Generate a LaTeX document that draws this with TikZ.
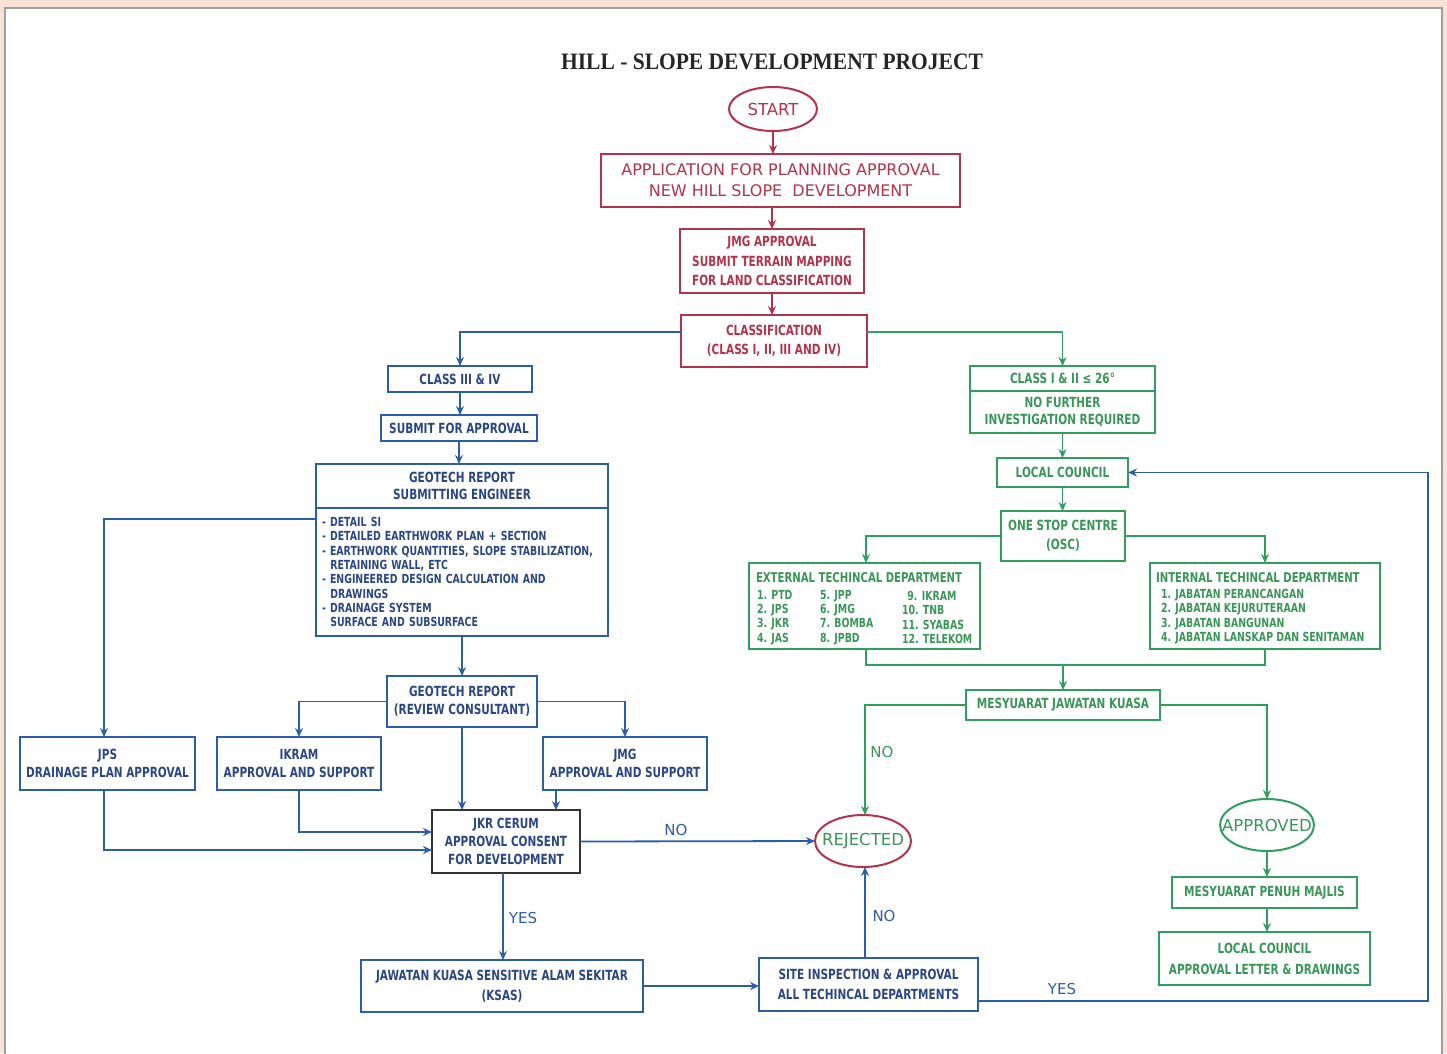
\documentclass[tikz,border=0pt]{standalone}
\usepackage{fontspec}
\setmainfont{DejaVu Sans}
\newfontfamily\cnd{DejaVu Sans}[FakeStretch=0.75]
\newfontfamily\ttlf{Liberation Serif}[FakeStretch=0.915]
\usetikzlibrary{shapes.geometric,arrows.meta}
\definecolor{rd}{HTML}{B2334C}
\definecolor{bl}{HTML}{2D5DA6}
\definecolor{blt}{HTML}{2A4683}
\definecolor{gn}{HTML}{2F9E5F}
\definecolor{gnt}{HTML}{3A9658}
\definecolor{peach}{HTML}{F8E2D8}
\definecolor{dk}{HTML}{333333}
\begin{document}
\begin{tikzpicture}[x=1pt,y=-1pt,
  every node/.style={inner sep=0pt,outer sep=0pt},
  rbox/.style={draw=rd,line width=2pt,text=rd,align=center,font=\fontsize{16}{21}\selectfont},
  rcbox/.style={draw=rd,line width=2pt,text=rd,align=center,font=\cnd\bfseries\fontsize{14}{19.5}\selectfont},
  bbox/.style={draw=bl,line width=2pt,text=blt,align=center,font=\cnd\bfseries\fontsize{14}{18}\selectfont},
  gbox/.style={draw=gn,line width=2pt,text=gnt,align=center,font=\cnd\bfseries\fontsize{14}{16.5}\selectfont},
  oval/.style={ellipse,line width=2pt,inner xsep=-20pt,inner ysep=-10pt,font=\fontsize{16.5}{18}\selectfont},
  blab/.style={text=bl,font=\fontsize{15}{17}\selectfont},
  glab/.style={text=gnt,font=\fontsize{15}{17}\selectfont},
  tip/.style={-{Stealth[length=9pt,width=8pt]}},
  rarr/.style={draw=rd,line width=1.8pt,tip},
  barr/.style={draw=bl,line width=1.8pt,tip},
  garr/.style={draw=gn,line width=1.8pt,tip},
  gline/.style={draw=gn,line width=1.8pt},
  small/.style={font=\cnd\bfseries\fontsize{12.5}{14.3}\selectfont},
]
\useasboundingbox (0,0) rectangle (1447,1053);
\fill[peach] (0,0) rectangle (1447,1053);
\fill[white] (5,8) rectangle (1442,1060);
\draw[gray!75,line width=2.5pt] (5,1060) -- (5,8) -- (1442,8) -- (1442,1060);

% title
\node[text=black!85,font=\ttlf\bfseries\fontsize{23.5}{25}\selectfont] (title) at (772,62) {HILL - SLOPE DEVELOPMENT PROJECT};

% red column
\node[oval,draw=rd,text=rd,minimum width=88pt,minimum height=44pt] (start) at (773,109) {START};
\node[rbox,minimum width=359pt,minimum height=53pt] (app) at (780.5,180.5) {APPLICATION FOR PLANNING APPROVAL\\NEW HILL SLOPE\ \ DEVELOPMENT};
\node[rcbox,minimum width=184pt,minimum height=64pt] (jmg) at (772,261) {JMG APPROVAL\\SUBMIT TERRAIN MAPPING\\FOR LAND CLASSIFICATION};
\node[rcbox,minimum width=186pt,minimum height=52pt] (cls) at (774,341) {CLASSIFICATION\\(CLASS I, II, III AND IV)};
\draw[rarr] (start.south) -- (start.south |- app.north);
\draw[rarr] (jmg.north |- app.south) -- (jmg.north);
\draw[rarr] (jmg.south) -- (jmg.south |- cls.north);

% blue left branch
\node[bbox,minimum width=144pt,minimum height=26pt] (c3) at (460,379) {CLASS III \& IV};
\node[bbox,minimum width=156pt,minimum height=26pt] (sub) at (459,428) {SUBMIT FOR APPROVAL};
\node[bbox,font=\cnd\bfseries\fontsize{14}{17}\selectfont,minimum width=292pt,minimum height=44pt] (gh) at (462,486) {GEOTECH REPORT\\SUBMITTING ENGINEER};
\node[bbox,small,minimum width=292pt,minimum height=128pt,text width=280pt,align=left] (gb) at (462,572) {- DETAIL SI\\- DETAILED EARTHWORK PLAN + SECTION\\- EARTHWORK QUANTITIES, SLOPE STABILIZATION,\\\ \ RETAINING WALL, ETC\\- ENGINEERED DESIGN CALCULATION AND\\\ \ DRAWINGS\\- DRAINAGE SYSTEM\\\ \ SURFACE AND SUBSURFACE};
\node[bbox,minimum width=150pt,minimum height=51pt] (gr) at (462,701.5) {GEOTECH REPORT\\(REVIEW CONSULTANT)};
\node[bbox,minimum width=175pt,minimum height=53pt] (jps) at (107.5,763.5) {JPS\\DRAINAGE PLAN APPROVAL};
\node[bbox,minimum width=164pt,minimum height=53pt] (ikram) at (299,763.5) {IKRAM\\APPROVAL AND SUPPORT};
\node[bbox,minimum width=164pt,minimum height=53pt] (jmgb) at (625,763.5) {JMG\\APPROVAL AND SUPPORT};
\node[bbox,draw=dk,minimum width=148pt,minimum height=63pt] (jkr) at (506,841.5) {JKR CERUM\\APPROVAL CONSENT\\FOR DEVELOPMENT};
\node[oval,draw=rd,text=gnt,minimum width=96pt,minimum height=52pt] (rej) at (863,841) {REJECTED};
\node[bbox,minimum width=282pt,minimum height=52pt,font=\cnd\bfseries\fontsize{14}{20}\selectfont] (ksas) at (502,986) {JAWATAN KUASA SENSITIVE ALAM SEKITAR\\(KSAS)};
\node[bbox,minimum width=219pt,minimum height=53pt,font=\cnd\bfseries\fontsize{14}{20}\selectfont] (site) at (868.5,984.5) {SITE INSPECTION \& APPROVAL\\ALL TECHINCAL DEPARTMENTS};
\coordinate (loopc) at (1428,1001);

\draw[barr] ([yshift=9pt]cls.west) -| (c3.north);
\draw[barr] (c3.south) -- (c3.south |- sub.north);
\draw[barr] (sub.south) -- (sub.south |- gh.north);
\draw[barr] ([yshift=53pt]gb.west) -| ([xshift=-3.5pt]jps.north);
\draw[barr] (gb.south) -- (gr.north);
\draw[barr] (gr.west) -| (ikram.north);
\draw[barr] (gr.east) -| (jmgb.north);
\draw[barr] (gr.south) -- (gr.south |- jkr.north);
\draw[barr] ([xshift=-69pt]jmgb.south) -- ([xshift=-69pt]jmgb.south |- jkr.north);
\draw[barr] ([xshift=-3.5pt]jps.south) |- ([yshift=-8.5pt]jkr.west);
\draw[barr] (ikram.south) |- ([yshift=9.5pt]jkr.west);
\draw[barr] (jkr.east) -- (rej.west);
\draw[barr] ([xshift=-3pt]jkr.south) -- ([xshift=-3pt]jkr.south |- ksas.north);
\draw[barr] (ksas.east) -- (ksas.east -| site.west);
\draw[barr] ([xshift=-3.5pt]site.north) -- ([xshift=-3.5pt]site.north |- rej.south);
\node[blab] (lno1) at (676,830) {NO};
\node[blab] (lyes1) at (523,918) {YES};
\node[blab] (lno2) at (884,916) {NO};
\node[blab] (lyes2) at (1062,989) {YES};

% green right branch
\node[gbox,minimum width=185pt,minimum height=25pt] (c1t) at (1062.5,378.5) {CLASS I \& II ≤ 26°};
\node[gbox,minimum width=185pt,minimum height=42pt] (c1b) at (1062.5,412) {NO FURTHER\\INVESTIGATION REQUIRED};
\node[gbox,minimum width=131pt,minimum height=29pt] (lc) at (1062.5,472.5) {LOCAL COUNCIL};
\node[gbox,minimum width=124pt,minimum height=50pt,font=\cnd\bfseries\fontsize{14}{19}\selectfont] (osc) at (1063,536) {ONE STOP CENTRE\\(OSC)};
\node[gbox,minimum width=231pt,minimum height=86pt] (ext) at (864.5,606) {};
\node[gbox,minimum width=230pt,minimum height=86pt] (int) at (1265,606) {};
\node[text=gnt,font=\cnd\bfseries\fontsize{13.5}{15}\selectfont,anchor=west] (extt) at (756,578) {EXTERNAL TECHINCAL DEPARTMENT};
\node[text=gnt,small,align=left,anchor=west] (extc1) at (757,617.5) {1. PTD\\2. JPS\\3. JKR\\4. JAS};
\node[text=gnt,small,align=left,anchor=west] (extc2) at (820,617.5) {5. JPP\\6. JMG\\7. BOMBA\\8. JPBD};
\node[text=gnt,small,align=left,anchor=west] (extc3) at (902,617.5) {\ \,9. IKRAM\\10. TNB\\11. SYABAS\\12. TELEKOM};
\node[text=gnt,font=\cnd\bfseries\fontsize{13.5}{15}\selectfont,anchor=west] (intt) at (1156,578) {INTERNAL TECHINCAL DEPARTMENT};
\node[text=gnt,small,align=left,anchor=west] (intc) at (1161,616.5) {1. JABATAN PERANCANGAN\\2. JABATAN KEJURUTERAAN\\3. JABATAN BANGUNAN\\4. JABATAN LANSKAP DAN SENITAMAN};
\node[gbox,minimum width=194pt,minimum height=30pt] (mjk) at (1063,705) {MESYUARAT JAWATAN KUASA};
\node[oval,draw=gn,text=gnt,minimum width=94pt,minimum height=52pt] (appr) at (1267,825) {APPROVED};
\node[gbox,minimum width=185pt,minimum height=31pt] (mpm) at (1264.5,892.5) {MESYUARAT PENUH MAJLIS};
\node[gbox,minimum width=211pt,minimum height=53pt,font=\cnd\bfseries\fontsize{14}{21}\selectfont] (lca) at (1264.5,958.5) {LOCAL COUNCIL\\APPROVAL LETTER \& DRAWINGS};
\coordinate (jn) at (1063,665);

\draw[garr] ([yshift=9pt]cls.east) -| (c1t.north);
\draw[garr] (c1b.south) -- (lc.north);
\draw[garr] (lc.south) -- (lc.south |- osc.north);
\draw[garr] (osc.west) -| ([xshift=1.5pt]ext.north);
\draw[garr] (osc.east) -| (int.north);
\draw[gline] ([xshift=1.5pt]ext.south) |- (jn) -| (int.south);
\draw[garr] (jn) -- (mjk.north);
\draw[garr] (mjk.west) -| ([xshift=2pt]rej.north);
\draw[garr] (mjk.east) -| (appr.north);
\draw[garr] (appr.south) -- (appr.south |- mpm.north);
\draw[garr] ([xshift=2.5pt]mpm.south) -- ([xshift=2.5pt]mpm.south |- lca.north);
\node[glab] (lno3) at (882,752) {NO};

% yes loop back
\draw[barr] ([yshift=-16.5pt]site.east) -- (loopc) |- (lc.east);
\end{tikzpicture}
\end{document}
